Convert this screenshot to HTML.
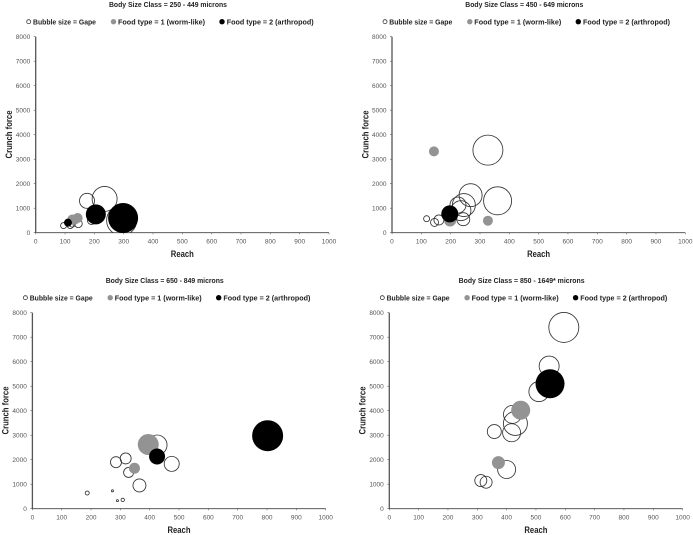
<!DOCTYPE html>
<html lang="en">
<head>
<meta charset="utf-8">
<title>Crunch force vs reach by body size class</title>
<style>
html,body{margin:0;padding:0;background:#fff;width:693px;height:535px;overflow:hidden}
svg{display:block;filter:blur(0.35px)}
text{font-family:"Liberation Sans",sans-serif}
.title,.legend,.axis-title{font-weight:bold;fill:#222}
.title{font-size:7.4px}
.legend{font-size:7.4px}
.axis-title{font-size:9.4px}
.tick{font-size:6.5px;fill:#555}
</style>
</head>
<body>
<svg id="chart" xmlns="http://www.w3.org/2000/svg" width="693" height="535" viewBox="0 0 693 535">
  <defs>
    <clipPath id="plot-clip" clipPathUnits="userSpaceOnUse"><rect x="0" y="0" width="340" height="232.7"/></clipPath>
  </defs>
  <g id="p0" transform="translate(0,0)">
    <text class="title" x="168" y="7" text-anchor="middle" textLength="118" lengthAdjust="spacingAndGlyphs">Body Size Class = 250 - 449 microns</text>
    <circle cx="28.7" cy="21.7" r="2" fill="none" stroke="#333" stroke-width="0.8"/>
    <text class="legend" x="33" y="24.5" textLength="63" lengthAdjust="spacingAndGlyphs">Bubble size = Gape</text>
    <circle cx="113.5" cy="21.7" r="2.7" fill="#939393"/>
    <text class="legend" x="118" y="24.5" textLength="87" lengthAdjust="spacingAndGlyphs">Food type = 1 (worm-like)</text>
    <circle cx="222" cy="21.7" r="2.7" fill="#000"/>
    <text class="legend" x="226.7" y="24.5" textLength="87" lengthAdjust="spacingAndGlyphs">Food type = 2 (arthropod)</text>
    <text class="axis-title" x="182.3" y="257" text-anchor="middle" textLength="23" lengthAdjust="spacingAndGlyphs">Reach</text>
    <text class="axis-title" transform="translate(12,134.5) rotate(-90)" text-anchor="middle" textLength="48" lengthAdjust="spacingAndGlyphs">Crunch force</text>
  </g>
  <g id="p1" transform="translate(356.3,0)">
    <text class="title" x="168" y="7" text-anchor="middle" textLength="118" lengthAdjust="spacingAndGlyphs">Body Size Class = 450 - 649 microns</text>
    <circle cx="28.7" cy="21.7" r="2" fill="none" stroke="#333" stroke-width="0.8"/>
    <text class="legend" x="33" y="24.5" textLength="63" lengthAdjust="spacingAndGlyphs">Bubble size = Gape</text>
    <circle cx="113.5" cy="21.7" r="2.7" fill="#939393"/>
    <text class="legend" x="118" y="24.5" textLength="87" lengthAdjust="spacingAndGlyphs">Food type = 1 (worm-like)</text>
    <circle cx="222" cy="21.7" r="2.7" fill="#000"/>
    <text class="legend" x="226.7" y="24.5" textLength="87" lengthAdjust="spacingAndGlyphs">Food type = 2 (arthropod)</text>
    <text class="axis-title" x="182.3" y="257" text-anchor="middle" textLength="23" lengthAdjust="spacingAndGlyphs">Reach</text>
    <text class="axis-title" transform="translate(12,134.5) rotate(-90)" text-anchor="middle" textLength="48" lengthAdjust="spacingAndGlyphs">Crunch force</text>
  </g>
  <g id="p2" transform="translate(-3.3,276)">
    <text class="title" x="168" y="7" text-anchor="middle" textLength="118" lengthAdjust="spacingAndGlyphs">Body Size Class = 650 - 849 microns</text>
    <circle cx="28.7" cy="21.7" r="2" fill="none" stroke="#333" stroke-width="0.8"/>
    <text class="legend" x="33" y="24.5" textLength="63" lengthAdjust="spacingAndGlyphs">Bubble size = Gape</text>
    <circle cx="113.5" cy="21.7" r="2.7" fill="#939393"/>
    <text class="legend" x="118" y="24.5" textLength="87" lengthAdjust="spacingAndGlyphs">Food type = 1 (worm-like)</text>
    <circle cx="222" cy="21.7" r="2.7" fill="#000"/>
    <text class="legend" x="226.7" y="24.5" textLength="87" lengthAdjust="spacingAndGlyphs">Food type = 2 (arthropod)</text>
    <text class="axis-title" x="182.3" y="257" text-anchor="middle" textLength="23" lengthAdjust="spacingAndGlyphs">Reach</text>
    <text class="axis-title" transform="translate(12,134.5) rotate(-90)" text-anchor="middle" textLength="48" lengthAdjust="spacingAndGlyphs">Crunch force</text>
  </g>
  <g id="p3" transform="translate(353.6,276)">
    <text class="title" x="168" y="7" text-anchor="middle" textLength="126" lengthAdjust="spacingAndGlyphs">Body Size Class = 850 - 1649* microns</text>
    <circle cx="28.7" cy="21.7" r="2" fill="none" stroke="#333" stroke-width="0.8"/>
    <text class="legend" x="33" y="24.5" textLength="63" lengthAdjust="spacingAndGlyphs">Bubble size = Gape</text>
    <circle cx="113.5" cy="21.7" r="2.7" fill="#939393"/>
    <text class="legend" x="118" y="24.5" textLength="87" lengthAdjust="spacingAndGlyphs">Food type = 1 (worm-like)</text>
    <circle cx="222" cy="21.7" r="2.7" fill="#000"/>
    <text class="legend" x="226.7" y="24.5" textLength="87" lengthAdjust="spacingAndGlyphs">Food type = 2 (arthropod)</text>
    <text class="axis-title" x="182.3" y="257" text-anchor="middle" textLength="23" lengthAdjust="spacingAndGlyphs">Reach</text>
    <text class="axis-title" transform="translate(12,134.5) rotate(-90)" text-anchor="middle" textLength="48" lengthAdjust="spacingAndGlyphs">Crunch force</text>
  </g>
</svg>
<script>
var xTicks = [0, 100, 200, 300, 400, 500, 600, 700, 800, 900, 1000];
var yTicks = [0, 1000, 2000, 3000, 4000, 5000, 6000, 7000, 8000];

// Panel 1: 250-449 microns
var p0OpenReach = [235, 175, 95, 118, 145, 190, 125, 293];
var p0OpenForce = [1380, 1300, 290, 290, 370, 500, 350, 500];
var p0OpenGape  = [125, 75, 30, 30, 40, 40, 30, 150];
var p0WormReach = [125, 143, 132];
var p0WormForce = [540, 600, 530];
var p0WormGape  = [50, 50, 50];
var p0ArthReach = [110, 205, 298];
var p0ArthForce = [410, 750, 600];
var p0ArthGape  = [40, 100, 150];

// Panel 2: 450-649 microns
var p1OpenReach = [327, 360, 268, 245, 225, 235, 243, 118, 145, 160, 200];
var p1OpenForce = [3370, 1300, 1530, 1130, 1130, 900, 550, 570, 420, 520, 500];
var p1OpenGape  = [150, 140, 115, 115, 80, 100, 65, 30, 40, 50, 50];
var p1WormReach = [143, 327, 198];
var p1WormForce = [3320, 490, 500];
var p1WormGape  = [50, 50, 60];
var p1ArthReach = [197];
var p1ArthForce = [770];
var p1ArthGape  = [85];

// Panel 3: 650-849 microns
var p2OpenReach = [475, 425, 318, 285, 328, 365, 187, 308, 273, 290];
var p2OpenForce = [1830, 2600, 2050, 1900, 1480, 950, 640, 360, 730, 330];
var p2OpenGape  = [75, 100, 55, 55, 50, 65, 20, 17, 10, 10];
var p2WormReach = [395, 348];
var p2WormForce = [2620, 1650];
var p2WormGape  = [105, 55];
var p2ArthReach = [425, 802];
var p2ArthForce = [2130, 2980];
var p2ArthGape  = [80, 155];

// Panel 4: 850-1649 microns
var p3OpenReach = [595, 545, 510, 420, 430, 417, 358, 400, 312, 330];
var p3OpenForce = [7400, 5820, 4780, 3850, 3480, 3100, 3150, 1600, 1150, 1080];
var p3OpenGape  = [150, 100, 100, 90, 120, 90, 70, 90, 60, 60];
var p3WormReach = [448, 372];
var p3WormForce = [4020, 1880];
var p3WormGape  = [95, 65];
var p3ArthReach = [548];
var p3ArthForce = [5100];
var p3ArthGape  = [145];

var NS = 'http://www.w3.org/2000/svg';
function xScale(v){ return 35.7 + v * 293.3 / 1000; }
function yScale(v){ return 232.7 - v * 196 / 8000; }
function rScale(g){ return g / 10; }

function make(tag, parent, attrs){
  var el = document.createElementNS(NS, tag);
  for (var k in attrs) el.setAttribute(k, attrs[k]);
  parent.appendChild(el);
  return el;
}

function drawAxes(g){
  var xa = make('line', g, {x1: xScale(0), x2: xScale(1000), y1: yScale(0), y2: yScale(0), stroke: '#444', 'stroke-width': 0.9});
  
  
  var ya = make('line', g, {x1: xScale(0), x2: xScale(0), y1: yScale(0), y2: yScale(8000), stroke: '#555', 'stroke-width': 1.3});
  
  
  xTicks.forEach(function(v){
    var t = make('line', g, {x1: xScale(v), x2: xScale(v), y1: yScale(0), y2: yScale(0) + 1.6, stroke: '#555', 'stroke-width': 0.6});
    
    
    var l = make('text', g, {x: xScale(v), y: yScale(0) + 11, 'text-anchor': 'middle', 'class': 'tick'});
    
    
    l.textContent = v;
  });
  yTicks.forEach(function(v){
    var t = make('line', g, {x1: xScale(0) - 2, x2: xScale(0), y1: yScale(v), y2: yScale(v), stroke: '#555', 'stroke-width': 0.6});
    
    
    var l = make('text', g, {x: xScale(0) - 5.5, y: yScale(v) + 2.3, 'text-anchor': 'end', 'class': 'tick'});
    
    
    l.textContent = v;
  });
}

function drawOpen(g, xs, ys, gs){
  xs.forEach(function(x, i){
    var c = make('circle', g, {cx: xScale(x), cy: yScale(ys[i]), r: rScale(gs[i]), fill: 'none', stroke: '#333', 'stroke-width': 0.85, 'clip-path': 'url(#plot-clip)'});
    
    
  });
}
function drawWorm(g, xs, ys, gs){
  xs.forEach(function(x, i){
    var c = make('circle', g, {cx: xScale(x), cy: yScale(ys[i]), r: rScale(gs[i]), fill: '#939393'});
    
    
  });
}
function drawArth(g, xs, ys, gs){
  xs.forEach(function(x, i){
    var c = make('circle', g, {cx: xScale(x), cy: yScale(ys[i]), r: rScale(gs[i]), fill: '#000'});
    
    
  });
}

var g0 = document.getElementById('p0');
var g1 = document.getElementById('p1');
var g2 = document.getElementById('p2');
var g3 = document.getElementById('p3');

drawAxes(g0);
drawOpen(g0, p0OpenReach, p0OpenForce, p0OpenGape);
drawWorm(g0, p0WormReach, p0WormForce, p0WormGape);
drawArth(g0, p0ArthReach, p0ArthForce, p0ArthGape);

drawAxes(g1);
drawOpen(g1, p1OpenReach, p1OpenForce, p1OpenGape);
drawWorm(g1, p1WormReach, p1WormForce, p1WormGape);
drawArth(g1, p1ArthReach, p1ArthForce, p1ArthGape);

drawAxes(g2);
drawOpen(g2, p2OpenReach, p2OpenForce, p2OpenGape);
drawWorm(g2, p2WormReach, p2WormForce, p2WormGape);
drawArth(g2, p2ArthReach, p2ArthForce, p2ArthGape);

drawAxes(g3);
drawOpen(g3, p3OpenReach, p3OpenForce, p3OpenGape);
drawWorm(g3, p3WormReach, p3WormForce, p3WormGape);
drawArth(g3, p3ArthReach, p3ArthForce, p3ArthGape);
</script>
</body>
</html>
